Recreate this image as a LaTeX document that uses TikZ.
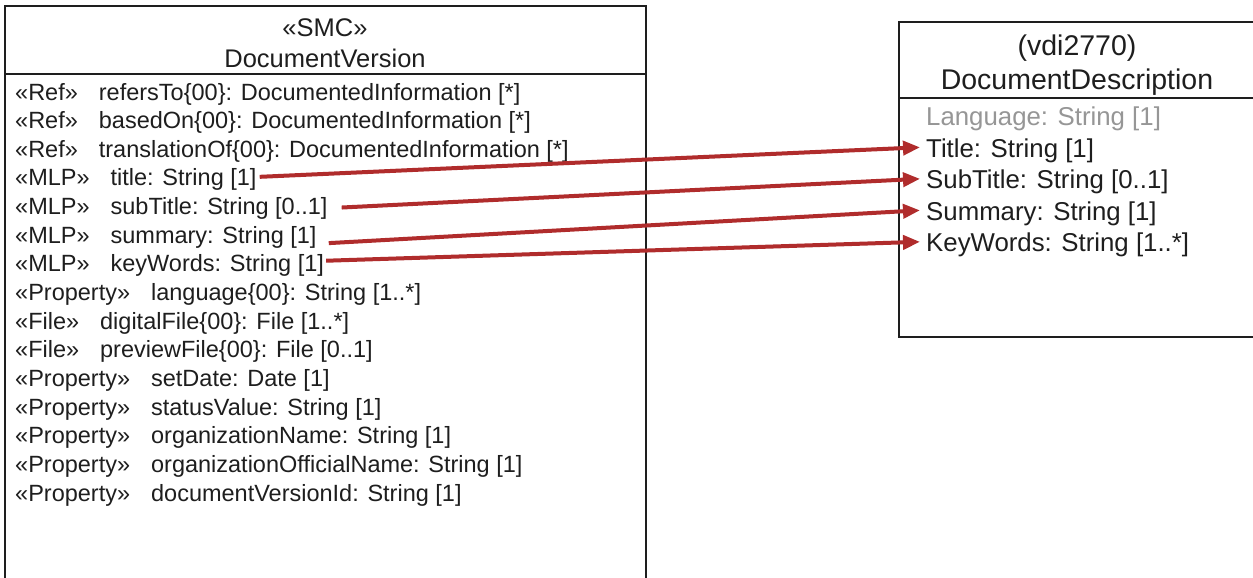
\documentclass[tikz,border=0pt]{standalone}
\usepackage{fontspec}
\setmainfont{Liberation Sans}
\usetikzlibrary{arrows.meta}
\definecolor{linkred}{RGB}{176,44,44}
\definecolor{ink}{RGB}{30,30,30}
\definecolor{faded}{RGB}{150,150,150}
\tikzset{
  classbox/.style={draw=ink, line width=1.4pt},
  hdrL/.style={inner sep=0pt, anchor=base, text=ink, font=\fontsize{25.5pt}{30pt}\selectfont},
  hdrR/.style={inner sep=0pt, anchor=base, text=ink, font=\fontsize{28.5pt}{34pt}\selectfont},
  rowL/.style={inner sep=0pt, anchor=base west, text=ink, font=\fontsize{23.5pt}{28pt}\selectfont},
  rowR/.style={inner sep=0pt, anchor=base west, text=ink, font=\fontsize{25.8pt}{31pt}\selectfont},
  maplink/.style={draw=linkred, line width=4pt, -{Triangle[length=17pt,width=14pt]}},
}
\newcommand{\st}[2]{#1\hspace{21pt}#2}
\begin{document}
\begin{tikzpicture}[x=1pt,y=-1pt]
\useasboundingbox (0,0) rectangle (1253,578);
\clip (0,0) rectangle (1253,578);
\fill[white] (0,0) rectangle (1253,578);

% DocumentVersion class
\draw[classbox] (5,6) rectangle (646,600);
\draw[classbox] (5,74) -- (646,74);
\node[hdrL] (dvs) at (325,37) {«SMC»};
\node[hdrL] (dvn) at (325,67) {DocumentVersion};

\node[rowL] (r1)  at (15,100.0) {\st{«Ref»}{refersTo\{00\}: DocumentedInformation [*]}};
\node[rowL] (r2)  at (15,128.6) {\st{«Ref»}{basedOn\{00\}: DocumentedInformation [*]}};
\node[rowL] (r3)  at (15,157.3) {\st{«Ref»}{translationOf\{00\}: DocumentedInformation [*]}};
\node[rowL] (r4)  at (15,185.9) {\st{«MLP»}{title: String [1]}};
\node[rowL] (r5)  at (15,214.6) {\st{«MLP»}{subTitle: String [0..1]}};
\node[rowL] (r6)  at (15,243.2) {\st{«MLP»}{summary: String [1]}};
\node[rowL] (r7)  at (15,271.8) {\st{«MLP»}{keyWords: String [1]}};
\node[rowL] (r8)  at (15,300.5) {\st{«Property»}{language\{00\}: String [1..*]}};
\node[rowL] (r9)  at (15,329.1) {\st{«File»}{digitalFile\{00\}: File [1..*]}};
\node[rowL] (r10) at (15,357.8) {\st{«File»}{previewFile\{00\}: File [0..1]}};
\node[rowL] (r11) at (15,386.4) {\st{«Property»}{setDate: Date [1]}};
\node[rowL] (r12) at (15,415.0) {\st{«Property»}{statusValue: String [1]}};
\node[rowL] (r13) at (15,443.7) {\st{«Property»}{organizationName: String [1]}};
\node[rowL] (r14) at (15,472.3) {\st{«Property»}{organizationOfficialName: String [1]}};
\node[rowL] (r15) at (15,501.0) {\st{«Property»}{documentVersionId: String [1]}};

% DocumentDescription class
\draw[classbox] (899,22) rectangle (1262,337);
\draw[classbox] (899,98) -- (1262,98);
\node[hdrR] (dds) at (1077,56) {(vdi2770)};
\node[hdrR] (ddn) at (1077,89) {DocumentDescription};

\node[rowR, text=faded] (d1) at (926,125.5) {Language: String [1]};
\node[rowR] (d2) at (926,157.0) {Title: String [1]};
\node[rowR] (d3) at (926,188.5) {SubTitle: String [0..1]};
\node[rowR] (d4) at (926,220.0) {Summary: String [1]};
\node[rowR] (d5) at (926,251.5) {KeyWords: String [1..*]};

% attribute mappings (yshift is upward on the canvas)
\draw[maplink] ([xshift=3pt,yshift=3pt]r4.east) -- ([xshift=-6pt,yshift=3pt]d2.west);
\draw[maplink] ([xshift=14pt,yshift=1pt]r5.east) -- ([xshift=-6pt,yshift=3pt]d3.west);
\draw[maplink] ([xshift=12pt,yshift=-6pt]r6.east) -- ([xshift=-6pt,yshift=3pt]d4.west);
\draw[maplink] ([xshift=2pt,yshift=5pt]r7.east) -- ([xshift=-6pt,yshift=3pt]d5.west);
\end{tikzpicture}
\end{document}
